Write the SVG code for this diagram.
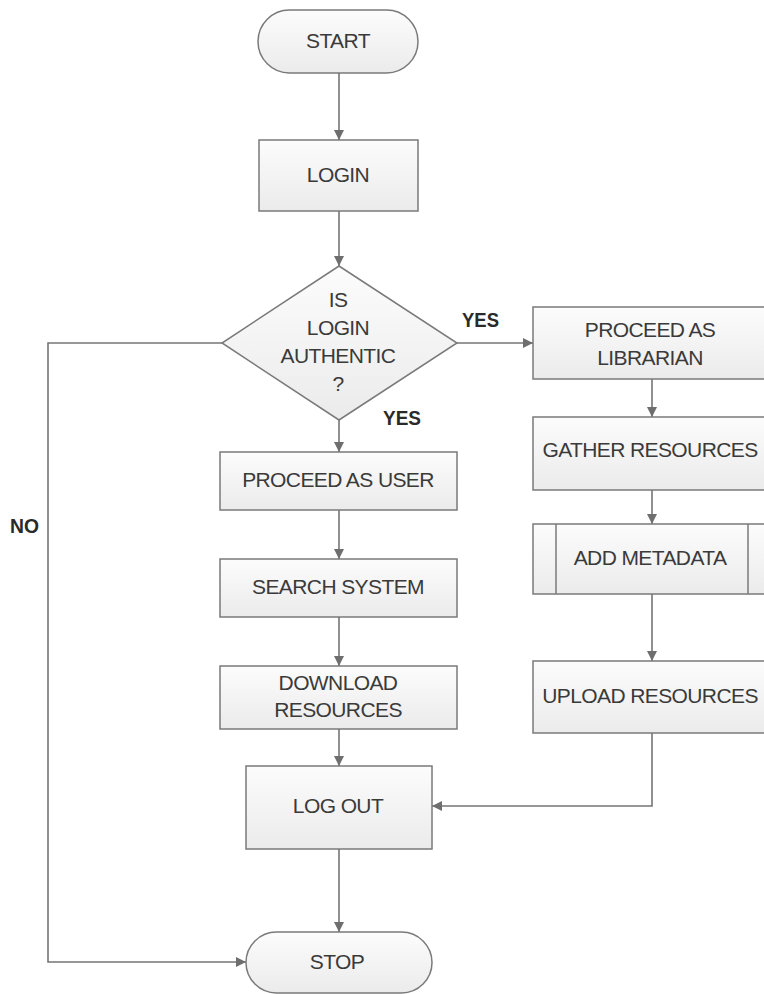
<svg xmlns="http://www.w3.org/2000/svg" width="764" height="994" viewBox="0 0 764 994">
  <defs>
    <linearGradient id="boxFill" x1="0" y1="0" x2="0" y2="1">
      <stop offset="0" stop-color="#fcfcfc"/>
      <stop offset="1" stop-color="#ebebeb"/>
    </linearGradient>
    <marker id="arrow" viewBox="0 0 10 10" refX="10" refY="5" markerWidth="10" markerHeight="10" markerUnits="userSpaceOnUse" orient="auto">
      <path d="M0,0 L10,5 L0,10 Z" fill="#6e6e6e"/>
    </marker>
  </defs>
  <style>
    .shape { fill: url(#boxFill); stroke: #7a7a7a; stroke-width: 1.5; }
    .edge { fill: none; stroke: #757575; stroke-width: 1.6; }
    .label { font-family: "Liberation Sans", Arial, sans-serif; font-size: 21px; fill: #3a3a3a; text-anchor: middle; letter-spacing: -0.6px; }
    .tag { font-family: "Liberation Sans", Arial, sans-serif; font-size: 20px; font-weight: bold; fill: #2a2a2a; }
  </style>
  <rect width="764" height="994" fill="#ffffff"/>

  <!-- connectors -->
  <g id="connectors">
    <line class="edge" x1="339" y1="73" x2="339" y2="140" marker-end="url(#arrow)"/>
    <line class="edge" x1="339" y1="211" x2="339" y2="266" marker-end="url(#arrow)"/>
    <line class="edge" x1="457" y1="343" x2="533" y2="343" marker-end="url(#arrow)"/>
    <line class="edge" x1="339" y1="420" x2="339" y2="452" marker-end="url(#arrow)"/>
    <line class="edge" x1="339" y1="510" x2="339" y2="559" marker-end="url(#arrow)"/>
    <line class="edge" x1="339" y1="617" x2="339" y2="666" marker-end="url(#arrow)"/>
    <line class="edge" x1="339" y1="729" x2="339" y2="766" marker-end="url(#arrow)"/>
    <line class="edge" x1="339" y1="849" x2="339" y2="932" marker-end="url(#arrow)"/>
    <line class="edge" x1="652" y1="379" x2="652" y2="417" marker-end="url(#arrow)"/>
    <line class="edge" x1="652" y1="490" x2="652" y2="524" marker-end="url(#arrow)"/>
    <line class="edge" x1="652" y1="594" x2="652" y2="661" marker-end="url(#arrow)"/>
    <polyline class="edge" points="652,733 652,806 432,806" marker-end="url(#arrow)"/>
    <polyline class="edge" points="222,343 48,343 48,962 246,962" marker-end="url(#arrow)"/>
    <text class="tag" x="462" y="327" textLength="37" lengthAdjust="spacingAndGlyphs">YES</text>
    <text class="tag" x="383" y="425" textLength="38" lengthAdjust="spacingAndGlyphs">YES</text>
    <text class="tag" x="10" y="533" textLength="29" lengthAdjust="spacingAndGlyphs">NO</text>
  </g>

  <g id="start">
    <rect class="shape" x="258" y="10" width="160" height="63" rx="31.5"/>
    <text class="label" x="338" y="48">START</text>
  </g>

  <g id="login">
    <rect class="shape" x="259" y="140" width="159" height="71"/>
    <text class="label" x="338" y="182">LOGIN</text>
  </g>

  <g id="check-login">
    <polygon class="shape" points="339,266 457,343 339,420 222,343"/>
    <text class="label" x="338" y="307">IS</text>
    <text class="label" x="338" y="335">LOGIN</text>
    <text class="label" x="338" y="363">AUTHENTIC</text>
    <text class="label" x="338" y="391">?</text>
  </g>

  <g id="proceed-user">
    <rect class="shape" x="220" y="452" width="237" height="58"/>
    <text class="label" x="338" y="487">PROCEED AS USER</text>
  </g>

  <g id="search-system">
    <rect class="shape" x="220" y="559" width="237" height="58"/>
    <text class="label" x="338" y="594">SEARCH SYSTEM</text>
  </g>

  <g id="download-resources">
    <rect class="shape" x="220" y="666" width="237" height="63"/>
    <text class="label" x="338" y="690">DOWNLOAD</text>
    <text class="label" x="338" y="717">RESOURCES</text>
  </g>

  <g id="log-out">
    <rect class="shape" x="246" y="766" width="186" height="83"/>
    <text class="label" x="338" y="813">LOG OUT</text>
  </g>

  <g id="stop">
    <rect class="shape" x="246" y="932" width="186" height="61" rx="30.5"/>
    <text class="label" x="337" y="969">STOP</text>
  </g>

  <g id="proceed-librarian">
    <rect class="shape" x="533" y="307" width="238" height="72"/>
    <text class="label" x="650" y="337">PROCEED AS</text>
    <text class="label" x="650" y="365">LIBRARIAN</text>
  </g>

  <g id="gather-resources">
    <rect class="shape" x="533" y="417" width="238" height="73"/>
    <text class="label" x="650" y="457">GATHER RESOURCES</text>
  </g>

  <g id="add-metadata">
    <rect class="shape" x="533" y="524" width="238" height="70"/>
    <line x1="556" y1="524" x2="556" y2="594" stroke="#7a7a7a" stroke-width="1.5"/>
    <line x1="748" y1="524" x2="748" y2="594" stroke="#7a7a7a" stroke-width="1.5"/>
    <text class="label" x="650" y="565">ADD METADATA</text>
  </g>

  <g id="upload-resources">
    <rect class="shape" x="533" y="661" width="238" height="72"/>
    <text class="label" x="650" y="703">UPLOAD RESOURCES</text>
  </g>
</svg>
